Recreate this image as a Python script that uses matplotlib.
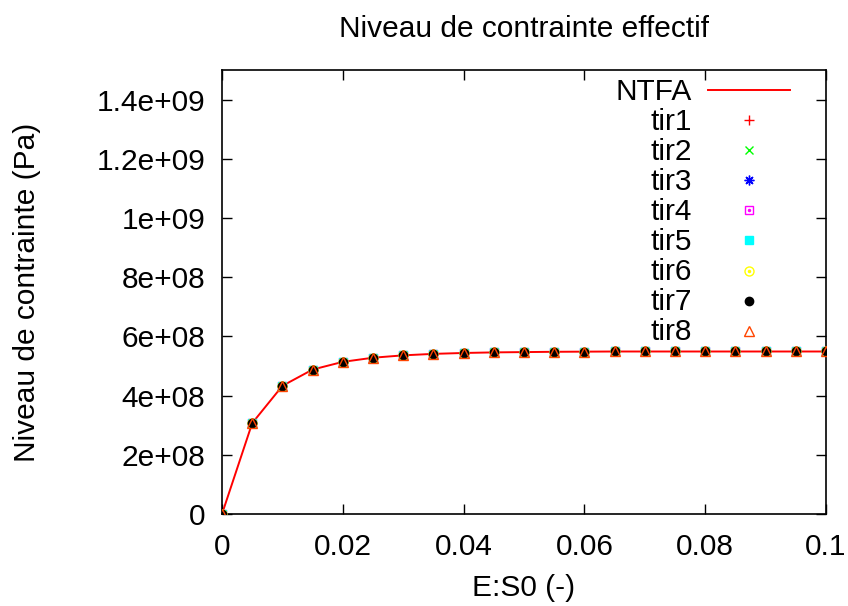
import numpy as np
import matplotlib.pyplot as plt
from matplotlib.ticker import FixedLocator, FixedFormatter

plt.rcParams['font.family'] = ['Liberation Sans', 'DejaVu Sans']

# strain values (E:S0)
strain = [0.000, 0.005, 0.010, 0.015, 0.020, 0.025, 0.030, 0.035, 0.040, 0.045, 0.050,
          0.055, 0.060, 0.065, 0.070, 0.075, 0.080, 0.085, 0.090, 0.095, 0.100]
# effective stress level (Pa)
stress = [0.0, 3.07e8, 4.33e8, 4.88e8, 5.14e8, 5.28e8, 5.36e8, 5.41e8, 5.44e8, 5.46e8, 5.47e8,
          5.48e8, 5.485e8, 5.49e8, 5.49e8, 5.49e8, 5.49e8, 5.49e8, 5.49e8, 5.49e8, 5.49e8]

series = ['tir1', 'tir2', 'tir3', 'tir4', 'tir5', 'tir6', 'tir7', 'tir8']

xticks = [0, 0.02, 0.04, 0.06, 0.08, 0.1]
xticklabels = ['0', '0.02', '0.04', '0.06', '0.08', '0.1']
yticks = [0, 2e8, 4e8, 6e8, 8e8, 1e9, 1.2e9, 1.4e9]
yticklabels = ['0', '2e+08', '4e+08', '6e+08', '8e+08', '1e+09', '1.2e+09', '1.4e+09']

# marker styles for each run (gnuplot-like)
styles = [
    dict(marker='+', color='#ff0000', mfc='none', ms=7, mew=1),
    dict(marker='x', color='#00ff00', mfc='none', ms=6, mew=1),
    dict(marker=(8, 2, 0), color='#0000ff', mfc='none', ms=7, mew=1),
    dict(marker='s', color='#ff00ff', mfc='none', ms=6, mew=1),
    dict(marker='s', color='#00ffff', mfc='#00ffff', ms=6, mew=1),
    dict(marker='o', color='#ffff00', mfc='none', ms=6.5, mew=1),
    dict(marker='o', color='#000000', mfc='#000000', ms=6, mew=1),
    dict(marker='^', color='#ff4500', mfc='none', ms=6.5, mew=1),
]
# open symbols that have a small dot in the centre
dotted = [3, 5]

fig = plt.figure(figsize=(8.48, 6.06), dpi=100)
ax = fig.add_axes([0.2618, 0.1518, 0.7123, 0.7327])

fs = 21.5
ax.plot(strain, stress, color='#ff0000', lw=1.4, zorder=2)
for i, st in enumerate(styles):
    ax.plot(strain, stress, ls='none', zorder=3, **st)
    if i in dotted:
        ax.plot(strain, stress, ls='none', marker='o', ms=1.5, color=st['color'], zorder=3)

ax.set_xlim(0, 0.1)
ax.set_ylim(0, 1.5e9)
ax.xaxis.set_major_locator(FixedLocator(xticks))
ax.xaxis.set_major_formatter(FixedFormatter(xticklabels))
ax.yaxis.set_major_locator(FixedLocator(yticks))
ax.yaxis.set_major_formatter(FixedFormatter(yticklabels))
ax.tick_params(direction='in', length=7, width=1, top=True, right=True, labelsize=fs)
ax.tick_params(axis='x', pad=14)
ax.tick_params(axis='y', pad=12)
for sp in ax.spines.values():
    sp.set_linewidth(1.2)

ax.set_title('Niveau de contrainte effectif', fontsize=fs, pad=24)
ax.set_xlabel('E:S0 (-)', fontsize=fs)
ax.set_ylabel('Niveau de contrainte (Pa)', fontsize=fs)
ax.xaxis.set_label_coords(0.5, -0.167)
ax.xaxis.label.set_va('center')
ax.yaxis.set_label_coords(-0.323, 0.5)
ax.yaxis.label.set_va('center')

# legend drawn in gnuplot style (text right aligned, sample at right)
y0 = 0.950
dy = 0.0676
tx = 0.778
ax.text(tx, y0, 'NTFA', transform=ax.transAxes, ha='right', va='center', fontsize=fs)
ax.plot([0.805, 0.940], [y0 + 0.004, y0 + 0.004], transform=ax.transAxes, color='#ff0000', lw=1.4)
for i, (name, st) in enumerate(zip(series, styles)):
    yy = y0 - (i + 1) * dy
    ax.text(tx, yy, name, transform=ax.transAxes, ha='right', va='center', fontsize=fs)
    ax.plot([0.8725], [yy + 0.004], transform=ax.transAxes, ls='none', **st)
    if i in dotted:
        ax.plot([0.8725], [yy + 0.004], transform=ax.transAxes, ls='none',
                marker='o', ms=1.5, color=st['color'])

fig.savefig('out.png', dpi=100)
